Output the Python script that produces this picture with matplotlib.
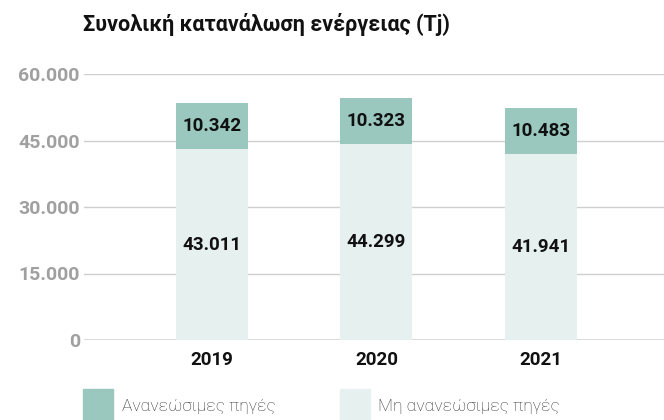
import matplotlib.pyplot as plt
from matplotlib.patches import Rectangle

# δεδομένα
years = ['2019', '2020', '2021']
ananeosimes = [10342, 10323, 10483]
mi_ananeosimes = [43011, 44299, 41941]
yticks = [0, 15000, 30000, 45000, 60000]
ytick_labels = ['0', '15.000', '30.000', '45.000', '60.000']
title = 'Συνολική κατανάλωση ενέργειας (Tj)'
legend_labels = ['Ανανεώσιμες πηγές', 'Μη ανανεώσιμες πηγές']

col_top = '#9ac8bf'
col_bottom = '#e6f0ee'

plt.rcParams['font.family'] = ['Roboto', 'DejaVu Sans']

fig = plt.figure(figsize=(6.64, 4.2), dpi=100)
ax = fig.add_axes([84 / 664, 1 - 340 / 420, 1 - 84 / 664, (340 - 74) / 420])

x = list(range(len(years)))
ax.bar(x, mi_ananeosimes, width=0.438, color=col_bottom, zorder=2)
ax.bar(x, ananeosimes, width=0.438, bottom=mi_ananeosimes, color=col_top, zorder=2)

def fmt(v):
    return f'{v:,}'.replace(',', '.')

for i in x:
    ax.text(i, mi_ananeosimes[i] / 2, fmt(mi_ananeosimes[i]), ha='center', va='center',
            fontsize=13.5, fontweight='bold', color='#111111', zorder=3)
    ax.text(i, mi_ananeosimes[i] + ananeosimes[i] / 2, fmt(ananeosimes[i]), ha='center', va='center',
            fontsize=13.5, fontweight='bold', color='#111111', zorder=3)

ax.set_xlim(-0.778, 2.748)
ax.set_ylim(0, 60000)
ax.set_yticks(yticks)
ax.set_yticklabels(ytick_labels, fontsize=14, fontweight='bold', color='#a0a0a0')
ax.set_xticks(x)
ax.set_xticklabels(years, fontsize=13.5, fontweight='bold', color='#111111')
ax.tick_params(axis='both', length=0)
ax.tick_params(axis='y', pad=3)
ax.tick_params(axis='x', pad=8)
for s in ax.spines.values():
    s.set_visible(False)
for t in yticks:
    ax.axhline(t, color='#cfcfcf', lw=1.8 if t == 0 else 1.0, zorder=1)

fig.text(83 / 664, 1 - 24 / 420, title, fontsize=15.5, fontweight='bold', color='#111111',
         ha='left', va='center')

# υπόμνημα
fig.add_artist(Rectangle((83 / 664, 0), 30 / 664, 31 / 420, transform=fig.transFigure,
                         color=col_top, clip_on=False))
fig.text(122 / 664, 1 - 406 / 420, legend_labels[0], fontsize=12.5, color='#333333',
         fontweight='light', ha='left', va='center')
fig.add_artist(Rectangle((340 / 664, 0), 30 / 664, 31 / 420, transform=fig.transFigure,
                         color=col_bottom, clip_on=False))
fig.text(378 / 664, 1 - 406 / 420, legend_labels[1], fontsize=12.5, color='#333333',
         fontweight='light', ha='left', va='center')

fig.savefig('out.png', dpi=100)
